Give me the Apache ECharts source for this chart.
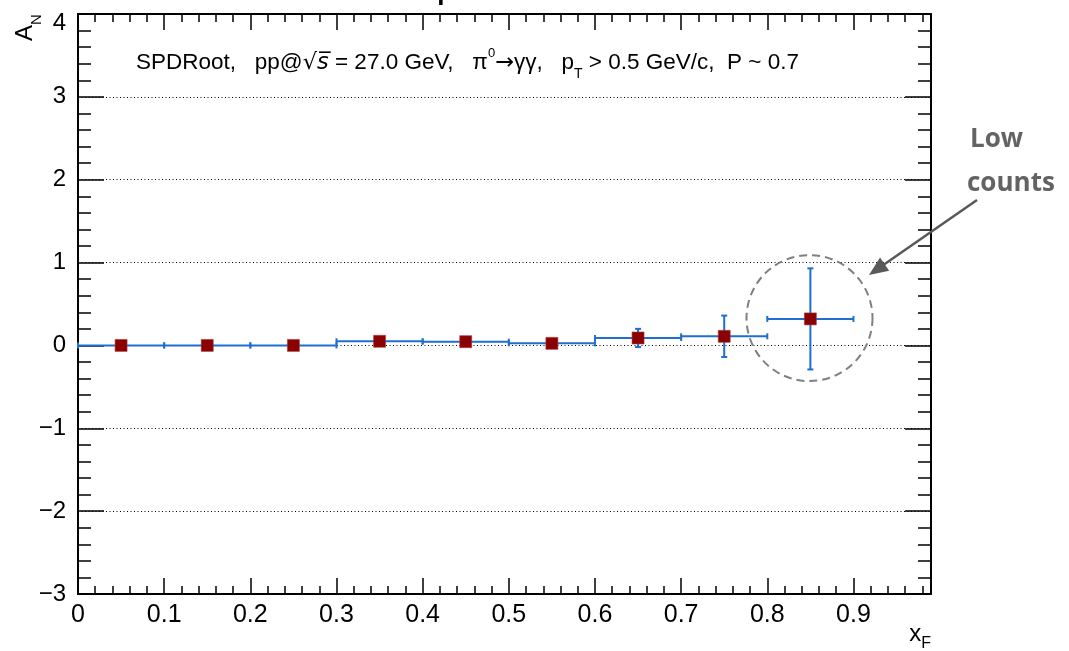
<!DOCTYPE html>
<html><head><meta charset="utf-8">
<script src="https://cdn.jsdelivr.net/npm/echarts@6/dist/echarts.min.js"></script>
<style>html,body{margin:0;padding:0;background:#fff}#c{width:1069px;height:651px}</style>
</head><body><div id="c"></div>
<script>
// ---- data ----
const xCenters = [0.05, 0.15, 0.25, 0.35, 0.45, 0.55, 0.65, 0.75, 0.85];
const xErrors  = [0.05, 0.05, 0.05, 0.05, 0.05, 0.05, 0.05, 0.05, 0.05];
const yValues  = [0.00, 0.00, 0.00, 0.05, 0.045, 0.025, 0.09, 0.11, 0.32];
const yErrors  = [0.005, 0.005, 0.005, 0.01, 0.01, 0.01, 0.11, 0.25, 0.61];
const xTickLabels = ['0', '0.1', '0.2', '0.3', '0.4', '0.5', '0.6', '0.7', '0.8', '0.9'];
const yTickLabels = ['\u22123', '\u22122', '\u22121', '0', '1', '2', '3', '4'];
const annotationText = 'SPDRoot,   pp@{rt|\u221A}{ov|s\u0305} = 27.0 GeV,   \u03C0{sup|0}{ar|\u2192}\u03B3\u03B3,   p{sub|T} > 0.5 GeV/c,  P ~ 0.7';
const calloutLines = ['Low', 'counts'];
const titleText = 'Spin effects';

// ---- layout / style ----
const FONT = 'Liberation Sans, Arial, Helvetica, sans-serif';
const BLUE = '#1f6fd2';
const RED = '#8b0000';

const chart = echarts.init(document.getElementById('c'));

const errData = xCenters.map((x, i) => [x, yValues[i], xErrors[i], yErrors[i]]);
const ptData = xCenters.map((x, i) => [x, yValues[i]]);

function xFmt(v) {
  const idx = Math.round(v * 10);
  if (Math.abs(v * 10 - idx) > 1e-6 || idx >= xTickLabels.length) return '';
  return xTickLabels[idx];
}
function yFmt(v) {
  const idx = Math.round(v) + 3;
  if (idx === 7) return '{top|' + yTickLabels[idx] + '}';
  return yTickLabels[idx];
}

const axisLine = { show: true, onZero: false, lineStyle: { color: '#000', width: 2 } };
const noLine = { show: false, onZero: false };
const baseX = { type: 'value', min: 0, max: 0.99, gridIndex: 0, splitLine: { show: false } };

const option = {
  backgroundColor: '#fff',
  animation: false,
  title: {
    text: titleText, left: 415, top: -25,
    textStyle: { fontSize: 26, fontWeight: 'bold', fontFamily: FONT, color: '#000' }
  },
  grid: { left: 78, right: 138, top: 14, bottom: 57 },
  xAxis: [
    Object.assign({}, baseX, {
      position: 'bottom', interval: 0.1, axisLine,
      axisTick: { show: true, inside: true, length: 16, lineStyle: { color: '#000', width: 1.5 } },
      axisLabel: { show: true, formatter: xFmt, margin: 9, color: '#000', fontSize: 25, fontFamily: FONT }
    }),
    Object.assign({}, baseX, {
      position: 'bottom', interval: 0.02, axisLine: noLine,
      axisTick: { show: true, inside: true, length: 8, lineStyle: { color: '#000', width: 1.5 } },
      axisLabel: { show: false }
    }),
    Object.assign({}, baseX, {
      position: 'top', interval: 0.1, axisLine,
      axisTick: { show: true, inside: true, length: 16, lineStyle: { color: '#000', width: 1.5 } },
      axisLabel: { show: false }
    }),
    Object.assign({}, baseX, {
      position: 'top', interval: 0.02, axisLine: noLine,
      axisTick: { show: true, inside: true, length: 8, lineStyle: { color: '#000', width: 1.5 } },
      axisLabel: { show: false }
    })
  ],
  yAxis: [
    {
      type: 'value', position: 'left', min: -3, max: 4, interval: 1, axisLine,
      axisTick: { show: true, inside: true, length: 26, lineStyle: { color: '#000', width: 1.5 } },
      minorTick: { show: true, splitNumber: 5, length: 13, lineStyle: { color: '#000', width: 1.5 } },
      splitLine: { show: true, lineStyle: { color: '#000', width: 1, type: [1, 2.5] } },
      axisLabel: {
        show: true, formatter: yFmt, margin: 12, color: '#000', fontSize: 24, fontFamily: FONT,
        rich: { top: { fontSize: 24, fontFamily: FONT, color: '#000', padding: [18, 0, 0, 0] } }
      }
    },
    {
      type: 'value', position: 'right', min: -3, max: 4, interval: 1, axisLine,
      axisTick: { show: true, inside: true, length: 26, lineStyle: { color: '#000', width: 1.5 } },
      minorTick: { show: true, splitNumber: 5, length: 13, lineStyle: { color: '#000', width: 1.5 } },
      splitLine: { show: false },
      axisLabel: { show: false }
    }
  ],
  series: [
    {
      type: 'custom', xAxisIndex: 0, yAxisIndex: 0, clip: false, z: 3,
      data: errData,
      renderItem: function (params, api) {
        const x = api.value(0), y = api.value(1), ex = api.value(2), ey = api.value(3);
        const pL = api.coord([x - ex, y]), pR = api.coord([x + ex, y]);
        const pT = api.coord([x, y + ey]), pB = api.coord([x, y - ey]);
        const cap = 3;
        const st = { stroke: BLUE, lineWidth: 2, fill: null };
        return {
          type: 'group', children: [
            { type: 'line', shape: { x1: pL[0], y1: pL[1], x2: pR[0], y2: pR[1] }, style: st },
            { type: 'line', shape: { x1: pL[0], y1: pL[1] - cap, x2: pL[0], y2: pL[1] + cap }, style: st },
            { type: 'line', shape: { x1: pR[0], y1: pR[1] - cap, x2: pR[0], y2: pR[1] + cap }, style: st },
            { type: 'line', shape: { x1: pT[0], y1: pT[1], x2: pB[0], y2: pB[1] }, style: st },
            { type: 'line', shape: { x1: pT[0] - cap, y1: pT[1], x2: pT[0] + cap, y2: pT[1] }, style: st },
            { type: 'line', shape: { x1: pB[0] - cap, y1: pB[1], x2: pB[0] + cap, y2: pB[1] }, style: st }
          ]
        };
      }
    },
    {
      type: 'scatter', xAxisIndex: 0, yAxisIndex: 0, z: 4,
      symbol: 'rect', symbolSize: 12,
      itemStyle: { color: RED, borderColor: '#a83a3a', borderWidth: 0.6, opacity: 1 },
      data: ptData
    }
  ]
};
chart.setOption(option);

// ---- annotations ----
const circleCenter = chart.convertToPixel({ xAxisIndex: 0, yAxisIndex: 0 }, [0.849, 0.33]);
const arrowStart = [977, 200], arrowTip = [869, 275];
const dx = arrowTip[0] - arrowStart[0], dy = arrowTip[1] - arrowStart[1];
const L = Math.hypot(dx, dy), ux = dx / L, uy = dy / L;
const headLen = 19, headHalf = 8;
const bx = arrowTip[0] - ux * headLen, by = arrowTip[1] - uy * headLen;
const ARROW = '#595959';

const AF = 22.5;
const annRich = {
  rt: { fontSize: AF, fontFamily: 'DejaVu Sans', fill: '#000', lineHeight: AF },
  ov: { fontSize: AF, fontFamily: 'DejaVu Sans', fontStyle: 'italic', fill: '#000', lineHeight: AF },
  ar: { fontSize: AF, fontFamily: 'DejaVu Sans', fill: '#000', lineHeight: AF },
  sup: { fontSize: 13, fontFamily: FONT, fill: '#000', lineHeight: 13, padding: [0, 0, 19, 0] },
  sub: { fontSize: 14, fontFamily: FONT, fill: '#000', lineHeight: 14, padding: [23, 0, 0, 0] }
};

chart.setOption({
  graphic: [
    {
      type: 'circle', shape: { cx: circleCenter[0], cy: circleCenter[1], r: 63 },
      style: { fill: null, stroke: '#808080', lineWidth: 2, lineDash: [8, 5] }, z: 10
    },
    {
      type: 'line', shape: { x1: arrowStart[0], y1: arrowStart[1], x2: bx + ux * 2, y2: by + uy * 2 },
      style: { stroke: ARROW, lineWidth: 2.5 }, z: 10
    },
    {
      type: 'polygon',
      shape: { points: [arrowTip, [bx - uy * headHalf, by + ux * headHalf], [bx + uy * headHalf, by - ux * headHalf]] },
      style: { fill: ARROW }, z: 10
    },
    {
      type: 'text', x: 970, y: 153, z: 10,
      style: { text: calloutLines[0], fontSize: 26, fontWeight: 'bold', fontFamily: 'Open Sans, sans-serif', fill: '#636363', textAlign: 'left', textVerticalAlign: 'bottom' }
    },
    {
      type: 'text', x: 967, y: 197, z: 10,
      style: { text: calloutLines[1], fontSize: 26, fontWeight: 'bold', fontFamily: 'Open Sans, sans-serif', fill: '#636363', textAlign: 'left', textVerticalAlign: 'bottom' }
    },
    {
      type: 'text', x: 136, y: 63, z: 10,
      style: {
        text: annotationText, fontSize: AF, fontFamily: FONT, fill: '#000', lineHeight: 44,
        textAlign: 'left', textVerticalAlign: 'middle', rich: annRich
      }
    },
    {
      type: 'text', x: 25, y: 41, rotation: Math.PI / 2, z: 10,
      style: {
        text: 'A{sub|N}', fontSize: 24, fontFamily: FONT, fill: '#000', lineHeight: 44,
        textAlign: 'left', textVerticalAlign: 'middle',
        rich: { sub: { fontSize: 15, fontFamily: FONT, fill: '#000', lineHeight: 15, padding: [24, 0, 0, 0] } }
      }
    },
    {
      type: 'text', x: 931, y: 634, z: 10,
      style: {
        text: 'x{sub|F}', fontSize: 24, fontFamily: FONT, fill: '#000', lineHeight: 44,
        textAlign: 'right', textVerticalAlign: 'middle',
        rich: { sub: { fontSize: 16, fontFamily: FONT, fill: '#000', lineHeight: 16, padding: [20, 0, 0, 0] } }
      }
    }
  ]
});
</script></body></html>
